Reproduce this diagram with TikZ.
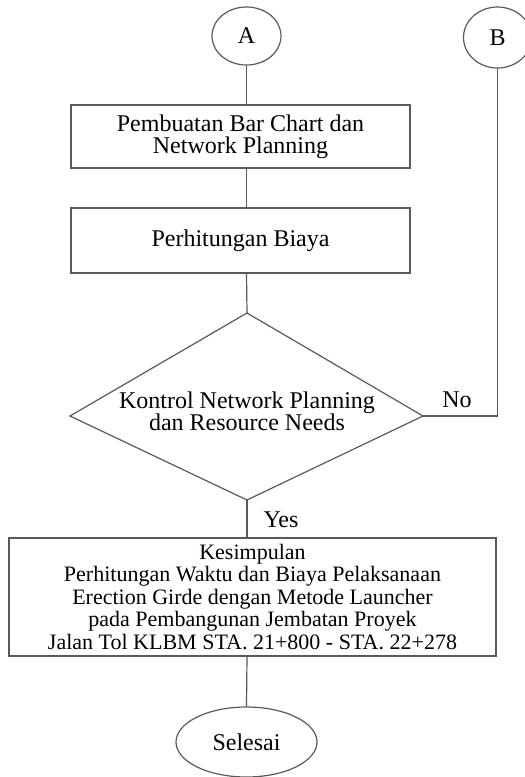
\documentclass[tikz,border=0pt]{standalone}
\usepackage{fontspec}
\setmainfont{Liberation Serif}
\usetikzlibrary{shapes.geometric}
\begin{document}
\begin{tikzpicture}[x=0.5pt,y=-0.5pt,
  every node/.style={font=\fontsize{12}{11}\selectfont},
  conn/.style={draw=black!65, line width=0.6pt},
  procbox/.style={draw=black!65, line width=0.6pt, rectangle, align=center, inner sep=0pt},
  term/.style={draw=black!65, line width=0.6pt, ellipse, inner sep=0pt},
  decis/.style={draw=black!65, line width=0.6pt, line join=miter}
]
\useasboundingbox (0,0) rectangle (525,777);
\node[term, minimum width=34.5pt, minimum height=29pt] (A) at (246.5,36) {A};
\node[term, minimum width=34pt, minimum height=30.5pt] (B) at (497.5,37.5) {B};
\node[procbox, minimum width=169.5pt, minimum height=31.5pt] (b1) at (240.5,136.5) {Pembuatan Bar Chart dan\\Network Planning};
\node[procbox, minimum width=169.5pt, minimum height=32.5pt] (b2) at (240.5,240.5) {Perhitungan Biaya};
\coordinate (dn) at (247,313);
\coordinate (de) at (423,416);
\coordinate (ds) at (247,500);
\coordinate (dw) at (70,416);
\draw[decis] (dn) -- (de) -- (ds) -- (dw) -- cycle;
\node[align=center, inner sep=0pt] (dt) at (247,411) {Kontrol Network Planning\\dan Resource Needs};
\node[procbox, minimum width=243.5pt, minimum height=59pt, font=\fontsize{11}{11.25}\selectfont] (b3) at (252.5,597) {Kesimpulan\\Perhitungan Waktu dan Biaya Pelaksanaan\\Erection Girde dengan Metode Launcher\\pada Pembangunan Jembatan Proyek\\Jalan Tol KLBM STA. 21+800 - STA. 22+278};
\node[term, minimum width=70.5pt, minimum height=35pt] (E) at (246.5,742) {Selesai};
\coordinate (nb) at (497.5,416);
\node (no) at (457,400) {No};
\node (yes) at (281,520) {Yes};
\draw[conn] (A.south) -- (A.south |- b1.north);
\draw[conn] (A.south |- b1.south) -- (A.south |- b2.north);
\draw[conn] (A.south |- b2.south) -- (dn);
\draw[conn] (de) -- (nb) -- (B.south);
\draw[conn] (ds) -- (ds |- b3.north);
\draw[conn] (ds |- b3.south) -- (E.north);
\end{tikzpicture}
\end{document}
